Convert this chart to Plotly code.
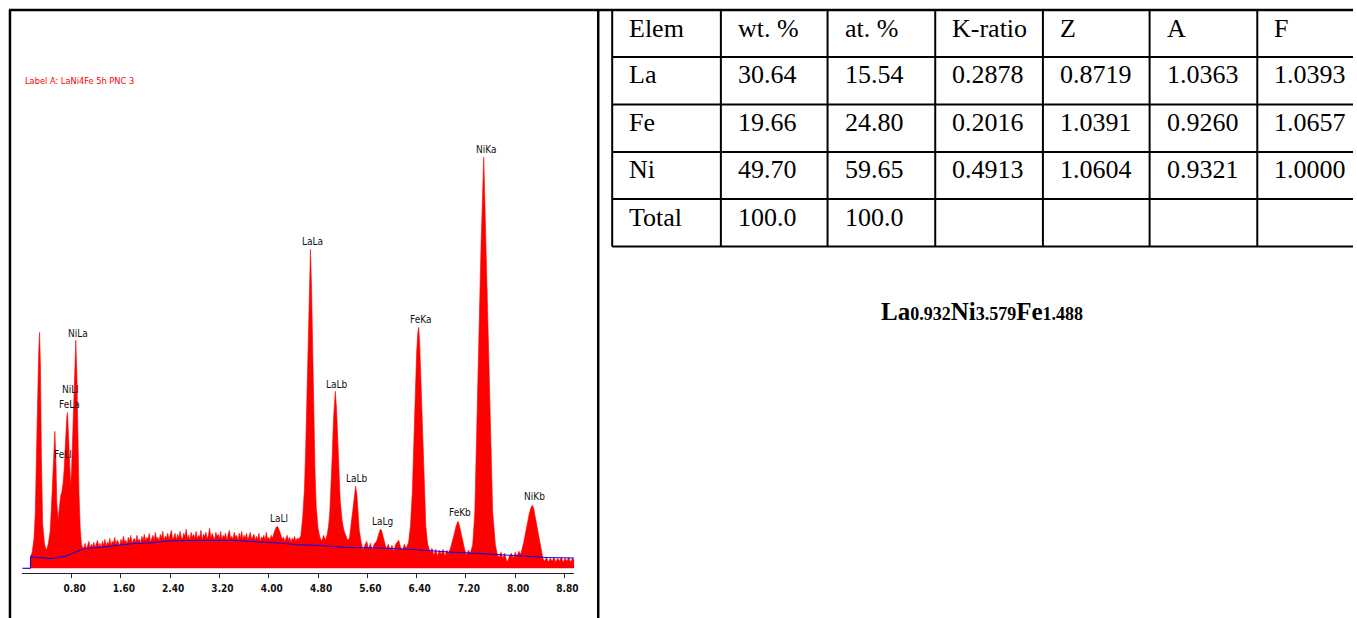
import plotly.graph_objects as go

W, H = 1357, 618

# ---------------- spectrum data (keV, counts) ----------------
low_kev = [0.00, 0.13, 0.135, 0.16, 0.19, 0.21, 0.23, 0.25, 0.265, 0.28, 0.295, 0.31, 0.33, 0.36,
           0.39, 0.42, 0.45, 0.47, 0.49, 0.51, 0.528, 0.545, 0.56, 0.58, 0.60, 0.62, 0.64, 0.66,
           0.68, 0.70, 0.72, 0.733, 0.75, 0.77, 0.785, 0.80, 0.82, 0.845, 0.868, 0.885, 0.90,
           0.92, 0.94, 0.96, 0.98]
low_counts = [0, 0, 12, 16, 30, 55, 115, 180, 215, 236, 200, 110, 45, 24,
              18, 24, 36, 58, 90, 122, 137, 108, 65, 48, 62, 72, 76, 84,
              100, 128, 150, 156, 128, 95, 82, 100, 140, 195, 228, 195, 140,
              75, 40, 24, 20]

# continuum channels, 0.02 keV wide, starting at 1.00 keV
mid_start_kev = 1.00
mid_step_kev = 0.02
mid_counts = [21, 25, 19, 23, 27, 20, 24, 22, 26, 21,
              24, 28, 22, 25, 20, 27, 23, 29, 22, 26,
              24, 30, 23, 27, 25, 31, 24, 28, 26, 22,
              29, 25, 32, 26, 28, 24, 31, 27, 33, 25,
              28, 30, 26, 33, 27, 29, 25, 32, 28, 34,
              27, 31, 29, 35, 26, 30, 33, 28, 36, 29,
              31, 27, 34, 30, 37, 28, 32, 30, 35, 29,
              33, 38, 29, 31, 35, 28, 34, 30, 37, 31,
              29, 35, 32, 39, 30, 33, 28, 36, 31, 34,
              30, 37, 29, 33, 31, 38, 28, 34, 32, 36,
              29, 33, 40, 30, 35, 31, 28, 36, 32, 34,
              30, 37, 29, 33, 31, 35, 28, 34, 38, 30,
              32, 29, 36, 31, 33, 28, 35, 30, 37, 29,
              33, 30, 35, 28, 32, 36, 29, 31, 34, 28,
              32, 29, 35, 27, 31, 30, 33, 28, 36, 29,
              31, 28, 33, 30, 35, 38, 41, 42, 40, 36,
              32, 29, 31, 27, 30, 33, 28, 31, 26, 30,
              28, 32, 27, 30, 29]
mid_kev = [round(mid_start_kev + mid_step_kev * i, 2) for i in range(len(mid_counts))]

high_kev = [4.50, 4.52, 4.55, 4.58, 4.60, 4.62, 4.64, 4.66, 4.677, 4.695, 4.71, 4.73, 4.75, 4.77,
            4.80, 4.83, 4.86, 4.89, 4.92, 4.95, 4.97, 4.99, 5.01, 5.03, 5.05, 5.07, 5.08, 5.10,
            5.12, 5.14, 5.16, 5.19, 5.22, 5.25, 5.28, 5.31, 5.34, 5.37, 5.395, 5.41, 5.43, 5.45,
            5.47, 5.50, 5.53, 5.56, 5.59, 5.62, 5.65, 5.68, 5.71, 5.75, 5.78, 5.81, 5.83, 5.85,
            5.88, 5.91, 5.94, 5.97, 6.00, 6.03, 6.06, 6.09, 6.11, 6.14, 6.17, 6.20, 6.23, 6.27,
            6.30, 6.33, 6.35, 6.37, 6.40, 6.42, 6.435, 6.45, 6.47, 6.49, 6.52, 6.55, 6.58, 6.62,
            6.65, 6.68, 6.71, 6.74, 6.77, 6.80, 6.83, 6.86, 6.89, 6.92, 6.95, 6.98, 7.01, 7.04,
            7.07, 7.09, 7.12, 7.15, 7.18, 7.21, 7.24, 7.27, 7.31, 7.345, 7.37, 7.41, 7.446, 7.49,
            7.527, 7.56, 7.60, 7.635, 7.68, 7.71, 7.74, 7.77, 7.80, 7.83, 7.86, 7.88, 7.91, 7.94,
            7.97, 8.00, 8.03, 8.06, 8.09, 8.11, 8.14, 8.17, 8.20, 8.23, 8.26, 8.28, 8.30, 8.33,
            8.36, 8.39, 8.42, 8.45, 8.48, 8.51, 8.54, 8.57, 8.60, 8.63, 8.66, 8.69, 8.72, 8.75,
            8.78, 8.81, 8.84, 8.87, 8.90, 8.93, 8.96]
high_counts = [31, 32, 50, 80, 120, 175, 230, 285, 319, 280, 225, 160, 100, 62,
               40, 31, 27, 33, 28, 34, 42, 55, 80, 112, 148, 172, 177, 160,
               128, 95, 68, 48, 38, 33, 28, 30, 45, 65, 78, 82, 74, 55,
               38, 26, 18, 23, 27, 19, 25, 18, 24, 27, 33, 39, 38, 33,
               26, 19, 24, 18, 23, 17, 24, 26, 28, 21, 18, 24, 20, 26,
               42, 75, 115, 170, 215, 236, 241, 225, 190, 150, 92, 42, 24, 16,
               20, 13, 19, 12, 18, 14, 19, 12, 18, 15, 20, 26, 34, 42,
               47, 44, 35, 25, 19, 13, 18, 15, 23, 56, 123, 223, 323, 411,
               323, 223, 123, 56, 23, 14, 11, 16, 10, 15, 8, 7, 13, 15,
               10, 16, 12, 17, 14, 18, 26, 36, 46, 55, 61, 63, 60, 50,
               38, 26, 16, 10, 7, 11, 6, 10, 7, 11, 6, 10, 7, 11,
               6, 10, 7, 11, 6, 10, 8]

bg_kev = [0.00, 0.13, 0.135, 0.27, 0.45, 0.70, 1.00, 1.26, 1.53, 1.80, 2.07, 2.34, 2.88,
          3.41, 3.85, 4.06, 4.50, 4.77, 5.30, 5.84, 6.38, 6.92, 7.46, 8.00, 8.54, 8.96]
bg_counts = [0, 0, 11.5, 10.5, 9.7, 12, 19.7, 21, 23, 24.7, 25.3, 27.3, 28,
             28, 26.3, 25.7, 23.5, 23, 20.7, 20.3, 18.7, 16.3, 14.7, 12.7, 10.7, 10.3]

peak_names = ["NiLa", "NiLl", "FeLa", "FeLl", "LaLl", "LaLa", "LaLb", "LaLb", "LaLg",
              "FeKa", "FeKb", "NiKa", "NiKb"]
peak_label_kev = [0.905, 0.787, 0.759, 0.662, 4.169, 4.708, 5.113, 5.436, 5.841,
                  6.462, 7.110, 7.530, 8.312]
peak_label_counts = [235, 179, 164, 114, 50, 326.6, 184.3, 90, 46.6, 249, 55.6, 418.3, 71.6]

tick_kev = [0.8, 1.6, 2.4, 3.2, 4.0, 4.8, 5.6, 6.4, 7.2, 8.0, 8.8]
tick_text = ["0.80", "1.60", "2.40", "3.20", "4.00", "4.80", "5.60", "6.40", "7.20", "8.00", "8.80"]
sample_label = "Label A: LaNi4Fe 5h PNC 3"

# ---------------- quantification table ----------------
table_header = ["Elem", "wt. %", "at. %", "K-ratio", "Z", "A", "F"]
elements = ["La", "Fe", "Ni", "Total"]
wt_pct = ["30.64", "19.66", "49.70", "100.0"]
at_pct = ["15.54", "24.80", "59.65", "100.0"]
k_ratio = ["0.2878", "0.2016", "0.4913", ""]
z_factor = ["0.8719", "1.0391", "1.0604", ""]
a_factor = ["1.0363", "0.9260", "0.9321", ""]
f_factor = ["1.0393", "1.0657", "1.0000", ""]
formula_elements = ["La", "Ni", "Fe"]
formula_subscripts = ["0.932", "3.579", "1.488"]

# ---------------- layout helpers ----------------
def pxx(x):
    return x / W

def pyy(y):
    return 1 - y / H

spec_kev = low_kev + mid_kev + high_kev
spec_counts = low_counts + mid_counts + high_counts

fig = go.Figure()
fig.add_trace(go.Scatter(
    x=spec_kev, y=spec_counts, mode="lines",
    line=dict(color="#ff0000", width=0.6),
    fill="tozeroy", fillcolor="#ff0000", hoverinfo="skip", showlegend=False))
fig.add_trace(go.Scatter(
    x=bg_kev, y=bg_counts, mode="lines",
    line=dict(color="#0000ff", width=1), hoverinfo="skip", showlegend=False))

narrow = "Liberation Sans Narrow, DejaVu Sans Condensed, Liberation Sans, Arial"
serif = "Liberation Serif, Times New Roman, serif"

annotations = []
for name, xk, yc in zip(peak_names, peak_label_kev, peak_label_counts):
    annotations.append(dict(x=xk, y=yc, xref="x", yref="y", text=name, showarrow=False,
                            xanchor="center", yanchor="middle",
                            font=dict(family=narrow, size=10, color="#111")))

annotations.append(dict(x=pxx(23), y=pyy(80), xref="paper", yref="paper", text=sample_label,
                        showarrow=False, xanchor="left", yanchor="middle",
                        font=dict(family=narrow, size=9.2, color="#ff0000")))

# table geometry
col_x = [614, 723, 830, 938, 1046, 1153, 1261]
row_y = [10, 57, 104.5, 152, 199, 246.5]
shapes = []
line_col = "black"
for cx in col_x:
    shapes.append(dict(type="line", xref="paper", yref="paper", x0=pxx(cx), x1=pxx(cx),
                       y0=pyy(row_y[0]), y1=pyy(row_y[-1]), line=dict(color=line_col, width=2)))
for ry in row_y:
    shapes.append(dict(type="line", xref="paper", yref="paper", x0=pxx(col_x[0]), x1=1.0,
                       y0=pyy(ry), y1=pyy(ry), line=dict(color=line_col, width=2)))
# panel borders
shapes.append(dict(type="line", xref="paper", yref="paper", x0=pxx(9), x1=1.0,
                   y0=pyy(10), y1=pyy(10), line=dict(color=line_col, width=2.5)))
shapes.append(dict(type="line", xref="paper", yref="paper", x0=pxx(10), x1=pxx(10),
                   y0=pyy(10), y1=pyy(620), line=dict(color=line_col, width=2.5)))
shapes.append(dict(type="line", xref="paper", yref="paper", x0=pxx(600), x1=pxx(600),
                   y0=pyy(10), y1=pyy(620), line=dict(color=line_col, width=2.5)))

columns = [elements, wt_pct, at_pct, k_ratio, z_factor, a_factor, f_factor]
for ci, head in enumerate(table_header):
    cells = [head] + columns[ci]
    for ri, txt in enumerate(cells):
        if not txt:
            continue
        annotations.append(dict(x=pxx(col_x[ci] + 15), y=pyy(row_y[ri] + 18),
                                xref="paper", yref="paper", text=txt, showarrow=False,
                                xanchor="left", yanchor="middle",
                                font=dict(family=serif, size=26, color="black")))

formula = "".join(f"{el}<span style='font-size:18px'>{sub}</span>"
                  for el, sub in zip(formula_elements, formula_subscripts))
annotations.append(dict(x=pxx(985), y=pyy(311), xref="paper", yref="paper",
                        text=f"<b>{formula}</b>", showarrow=False,
                        xanchor="center", yanchor="middle",
                        font=dict(family=serif, size=25, color="black")))

fig.update_layout(
    width=W, height=H,
    margin=dict(l=0, r=0, t=0, b=0),
    paper_bgcolor="white", plot_bgcolor="white",
    showlegend=False,
    xaxis=dict(domain=[pxx(22.4), pxx(576)], range=[0, 8.96],
               showline=True, linecolor="#222", linewidth=1.3,
               ticks="outside", ticklen=4, tickcolor="#222", tickwidth=1,
               tickvals=tick_kev, ticktext=tick_text,
               tickfont=dict(family=narrow, size=10, color="#111", weight="bold"),
               ticklabelstandoff=2, ticklabelshift=3,
               showgrid=False, zeroline=False, fixedrange=True),
    yaxis=dict(domain=[pyy(573), pyy(140)], range=[-4.7, 428.3], visible=False,
               showgrid=False, zeroline=False, fixedrange=True),
    shapes=shapes,
    annotations=annotations,
)

fig.write_html("out.html", config={"displayModeBar": False},
               post_script="document.body.style.margin='0';document.body.style.overflow='hidden';")
